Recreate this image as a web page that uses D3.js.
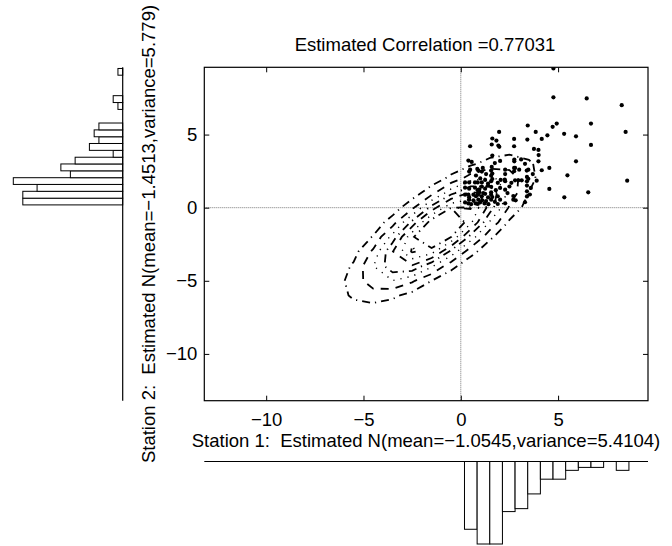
<!DOCTYPE html>
<html>
<head>
<meta charset="utf-8">
<script src="https://cdn.jsdelivr.net/npm/d3@7"></script>
<style>
body { margin: 0; background: #fff; }
text { font-family: "Liberation Sans", Arial, Helvetica, sans-serif; fill: #000; }
</style>
</head>
<body>
<svg id="chart"></svg>
<script>
// Data
var stationOne = [
    0.22, 0.39, 0.53, 0.77, 0.43, 0.65, 0.22, 0.39, 0.65, 0.43, 0.78, 0.22, 0.43, 0.73, 0.22, 0.43, 0.73, 0.43, 0.78, 0.48, 0.39, 0.56,
    0.99, 1.22, 1.42, 0.90, 1.10, 1.30, 0.87, 0.87, 1.08, 1.25, 1.40, 0.95, 1.15, 1.08, 0.87, 1.25, 1.40, 0.95, 0.87, 1.08, 1.25, 1.40, 1.00, 1.08, 1.30, 0.90, 1.13, 0.85,
    1.56, 1.90, 2.02, 1.75, 1.56, 1.90, 1.62, 1.56, 1.56, 2.02, 1.80, 1.56, 1.62, 1.90, 2.05, 1.56, 1.62, 1.56, 1.59, 1.75, 2.02,
    2.28, 2.70, 2.70, 2.40, 2.28, 2.50, 2.28, 2.26, 2.60, 2.28, 2.74, 2.28, 2.74, 2.75, 2.75,
    2.82, 3.30, 3.40, 3.40, 3.40, 2.79, 2.96, 3.13, 3.40, 3.40, 2.79, 3.39, 3.00, 3.10, 3.30,
    3.55, 3.60, 3.90, 3.47, 3.70, 3.47, 3.99,
    5.92, 8.55, 5.48, 4.55, 5.32, 6.55, 4.55, 4.16,
    4.76, 4.76, 6.47, 8.27, 3.44, 4.93, 4.72, 6.69, 8.47, 1.97, 3.85, 4.45, 4.16, 5.31, 5.92, 3.42, 2.74, 1.62, 1.59, 1.93, 1.98, 2.74, 6.69, 3.76, 3.99, 0.48, 1.83, 1.62, 4.00
];
var stationTwo = [
    0.36, 0.29, 0.24, 0.29, 0.55, 0.50, 0.89, 0.89, 0.89, 0.72, 0.78, 1.37, 1.30, 1.37, 1.73, 1.73, 1.73, 2.47, 2.20, 2.60, 3.22, 3.13,
    0.36, 0.29, 0.24, 0.55, 0.50, 0.45, 0.25, 0.89, 0.78, 0.95, 0.70, 1.05, 1.00, 1.44, 1.20, 1.30, 1.50, 1.25, 1.73, 1.73, 1.90, 1.65, 2.00, 2.47, 2.30, 2.54, 2.72, 2.65,
    0.55, 0.25, 0.55, 0.40, 0.89, 0.78, 0.73, 1.05, 1.43, 1.35, 1.20, 1.81, 1.96, 1.70, 1.90, 2.19, 2.33, 2.54, 2.79, 3.05, 3.20,
    0.30, 0.55, 0.80, 1.00, 1.23, 1.45, 1.81, 1.92, 1.70, 2.30, 2.49, 2.60, 2.72, 3.17, 3.29,
    0.50, 0.37, 0.77, 1.12, 1.51, 1.87, 1.87, 1.87, 1.80, 2.10, 2.72, 2.54, 2.60, 3.30, 3.00,
    0.90, 1.35, 1.85, 1.97, 2.30, 2.60, 3.17,
    3.17, 1.85, 2.21, 1.28, 0.71, 1.05, 2.72, 2.56,
    9.52, 7.55, 7.47, 7.01, 5.62, 5.75, 5.53, 5.75, 5.18, 5.18, 5.18, 4.95, 4.70, 5.05, 4.88, 4.66, 4.70, 4.73, 4.32, 4.25, 4.16, 4.20, 4.29, 4.02, 3.95, 4.20, 4.59, 3.56, 3.60
];

// histogram of station 1 (bars hang below the plot)
var histOneEdges = [0.19, 0.84, 1.49, 2.14, 2.79, 3.44, 4.09, 4.74, 5.39, 6.04, 6.69, 7.34, 7.99, 8.64];
var histOneCounts = [23, 28, 28, 17, 16, 11, 6, 6, 3, 2, 2, 0, 3];

// histogram of station 2 (bars to the left of the plot)
var histTwoEdges = [0.19, 0.65, 1.12, 1.59, 2.05, 2.52, 2.99, 3.45, 3.92, 4.39, 4.85, 5.32, 5.79, 6.26, 6.72, 7.19, 7.66, 8.12, 8.59, 9.06, 9.52];
var histTwoCounts = [21, 21, 18, 23, 11, 13, 10, 2, 7, 5, 6, 5, 0, 0, 1, 2, 0, 0, 0, 1];

// estimated normal parameters (as printed on the chart)
var meanOne = -1.0545, varOne = 5.4104;
var meanTwo = -1.4513, varTwo = 5.779;
var correlation = 0.77031;
var contourLevels = [0.005, 0.01, 0.015, 0.02, 0.025, 0.03, 0.035];
var levelStyles = ["-.", "--", ":", "-.", "--", ":", "-."];

var xTicks = [-10, -5, 0, 5];
var yTicks = [-10, -5, 0, 5];

// SVG
var width = 672;
var height = 546;
var fontSize = 18.5;

var svg = d3.select("#chart")
    .attr("width", width)
    .attr("height", height)

var xScale = d3.scaleLinear()
    .domain([-13.18, 9.62])
    .range([204.3, 648]);

var yScale = d3.scaleLinear()
    .domain([-13.2, 9.6])
    .range([400.7, 67.3]);

var left = xScale.range()[0], right = xScale.range()[1];
var top_ = yScale.range()[1], bottom = yScale.range()[0];

//Clip to the plot box
svg.append("clipPath")
    .attr("id", "box")
    .append("rect")
    .attr("x", left)
    .attr("y", top_)
    .attr("width", right - left)
    .attr("height", bottom - top_)

//Zero lines
svg.append("line")
    .attr("x1", left).attr("x2", right)
    .attr("y1", yScale(0)).attr("y2", yScale(0))
    .attr("stroke", "#777")
    .attr("stroke-dasharray", "1,1")
svg.append("line")
    .attr("x1", xScale(0)).attr("x2", xScale(0))
    .attr("y1", top_).attr("y2", bottom)
    .attr("stroke", "#777")
    .attr("stroke-dasharray", "1,1")

//Contours of the fitted normal, on a coarse grid
var gridX0 = -7.5, gridY0 = -8, gridStep = 1, nx = 13, ny = 13;
var sdOne = Math.sqrt(varOne), sdTwo = Math.sqrt(varTwo);
var grid = [];
for (var j = 0; j < ny; j++) {
    for (var i = 0; i < nx; i++) {
        var u = (gridX0 + i * gridStep - meanOne) / sdOne;
        var v = (gridY0 + j * gridStep - meanTwo) / sdTwo;
        var q = (u * u - 2 * correlation * u * v + v * v) / (1 - correlation * correlation);
        grid.push(Math.exp(-q / 2) / (2 * Math.PI * sdOne * sdTwo * Math.sqrt(1 - correlation * correlation)));
    }
}

var contours = d3.contours()
    .size([nx, ny])
    .thresholds(contourLevels)(grid);

var toPlot = d3.geoTransform({
    point: function(x, y) {
        this.stream.point(xScale(gridX0 + (x - 0.5) * gridStep), yScale(gridY0 + (y - 0.5) * gridStep));
    }
});

var dashes = { "--": "8,7", ":": "1.2,6", "-.": "8,5,1.2,5" };

svg.append("g")
    .attr("clip-path", "url(#box)")
    .selectAll("path")
    .data(contours)
    .enter()
    .append("path")
    .attr("d", d3.geoPath(toPlot))
    .attr("fill", "none")
    .attr("stroke", "black")
    .attr("stroke-width", (d, i) => levelStyles[i] === ":" ? 1.4 : 1.8)
    .attr("stroke-dasharray", (d, i) => dashes[levelStyles[i]])

//Scatter points
svg.append("g")
    .attr("clip-path", "url(#box)")
    .selectAll("circle")
    .data(stationOne)
    .enter()
    .append("circle")
    .attr("cx", d => xScale(d))
    .attr("cy", (d, i) => yScale(stationTwo[i]))
    .attr("r", 2.1)
    .attr("fill", "black")

//Axes, ticks pointing inwards on all four sides
function styleAxis(g) {
    g.attr("font-size", fontSize)
        .attr("font-family", "Liberation Sans, Arial, Helvetica, sans-serif")
    g.select(".domain").remove()
    g.selectAll(".tick line").attr("stroke", "black")
    g.selectAll(".tick text").attr("fill", "black")
}

svg.append("g")
    .attr("transform", "translate(0," + bottom + ")")
    .call(d3.axisBottom(xScale).tickValues(xTicks).tickSizeInner(-5).tickSizeOuter(0).tickPadding(12))
    .call(styleAxis)
svg.append("g")
    .attr("transform", "translate(0," + top_ + ")")
    .call(d3.axisTop(xScale).tickValues(xTicks).tickSizeInner(-5).tickSizeOuter(0).tickFormat(""))
    .call(styleAxis)
svg.append("g")
    .attr("transform", "translate(" + left + ",0)")
    .call(d3.axisLeft(yScale).tickValues(yTicks).tickSizeInner(-5).tickSizeOuter(0).tickPadding(7))
    .call(styleAxis)
svg.append("g")
    .attr("transform", "translate(" + right + ",0)")
    .call(d3.axisRight(yScale).tickValues(yTicks).tickSizeInner(-5).tickSizeOuter(0).tickFormat(""))
    .call(styleAxis)

svg.append("rect")
    .attr("x", left)
    .attr("y", top_)
    .attr("width", right - left)
    .attr("height", bottom - top_)
    .attr("fill", "none")
    .attr("stroke", "black")
    .attr("stroke-width", 1.2)

//Titles
svg.append("text")
    .attr("x", 425)
    .attr("y", 50.7)
    .attr("text-anchor", "middle")
    .style("font-size", fontSize + "px")
    .text("Estimated Correlation =" + correlation)

svg.append("text")
    .attr("x", 426)
    .attr("y", 447)
    .attr("text-anchor", "middle")
    .style("font-size", fontSize + "px")
    .style("white-space", "pre")
    .text("Station 1:  Estimated N(mean=\u2212" + Math.abs(meanOne) + ",variance=" + varOne + ")")

svg.append("text")
    .attr("transform", "translate(155," + ((top_ + bottom) / 2) + ") rotate(-90)")
    .attr("text-anchor", "middle")
    .style("font-size", fontSize + "px")
    .style("white-space", "pre")
    .text("Station 2:  Estimated N(mean=\u2212" + Math.abs(meanTwo) + ",variance=" + varTwo + ")")

//Histogram below: station 1
var histOneScale = d3.scaleLinear()
    .domain([0, d3.max(histOneCounts)])
    .range([461.5, 544]);

svg.append("g")
    .selectAll("rect")
    .data(histOneCounts)
    .enter()
    .append("rect")
    .attr("x", (d, i) => xScale(histOneEdges[i]))
    .attr("y", histOneScale(0))
    .attr("width", (d, i) => xScale(histOneEdges[i + 1]) - xScale(histOneEdges[i]))
    .attr("height", d => histOneScale(d) - histOneScale(0))
    .attr("fill", "white")
    .attr("stroke", "black")
    .attr("stroke-width", 1)

svg.append("line")
    .attr("x1", left).attr("x2", right)
    .attr("y1", histOneScale(0)).attr("y2", histOneScale(0))
    .attr("stroke", "black")
    .attr("stroke-width", 1.2)

//Histogram at the left: station 2
var histTwoScale = d3.scaleLinear()
    .domain([0, d3.max(histTwoCounts)])
    .range([122.7, 13.3]);

svg.append("g")
    .selectAll("rect")
    .data(histTwoCounts)
    .enter()
    .append("rect")
    .attr("x", d => histTwoScale(d))
    .attr("y", (d, i) => yScale(histTwoEdges[i + 1]))
    .attr("width", d => histTwoScale(0) - histTwoScale(d))
    .attr("height", (d, i) => yScale(histTwoEdges[i]) - yScale(histTwoEdges[i + 1]))
    .attr("fill", "white")
    .attr("stroke", "black")
    .attr("stroke-width", 1)

svg.append("line")
    .attr("x1", histTwoScale(0)).attr("x2", histTwoScale(0))
    .attr("y1", top_).attr("y2", bottom)
    .attr("stroke", "black")
    .attr("stroke-width", 1.2)
</script>
</body>
</html>
